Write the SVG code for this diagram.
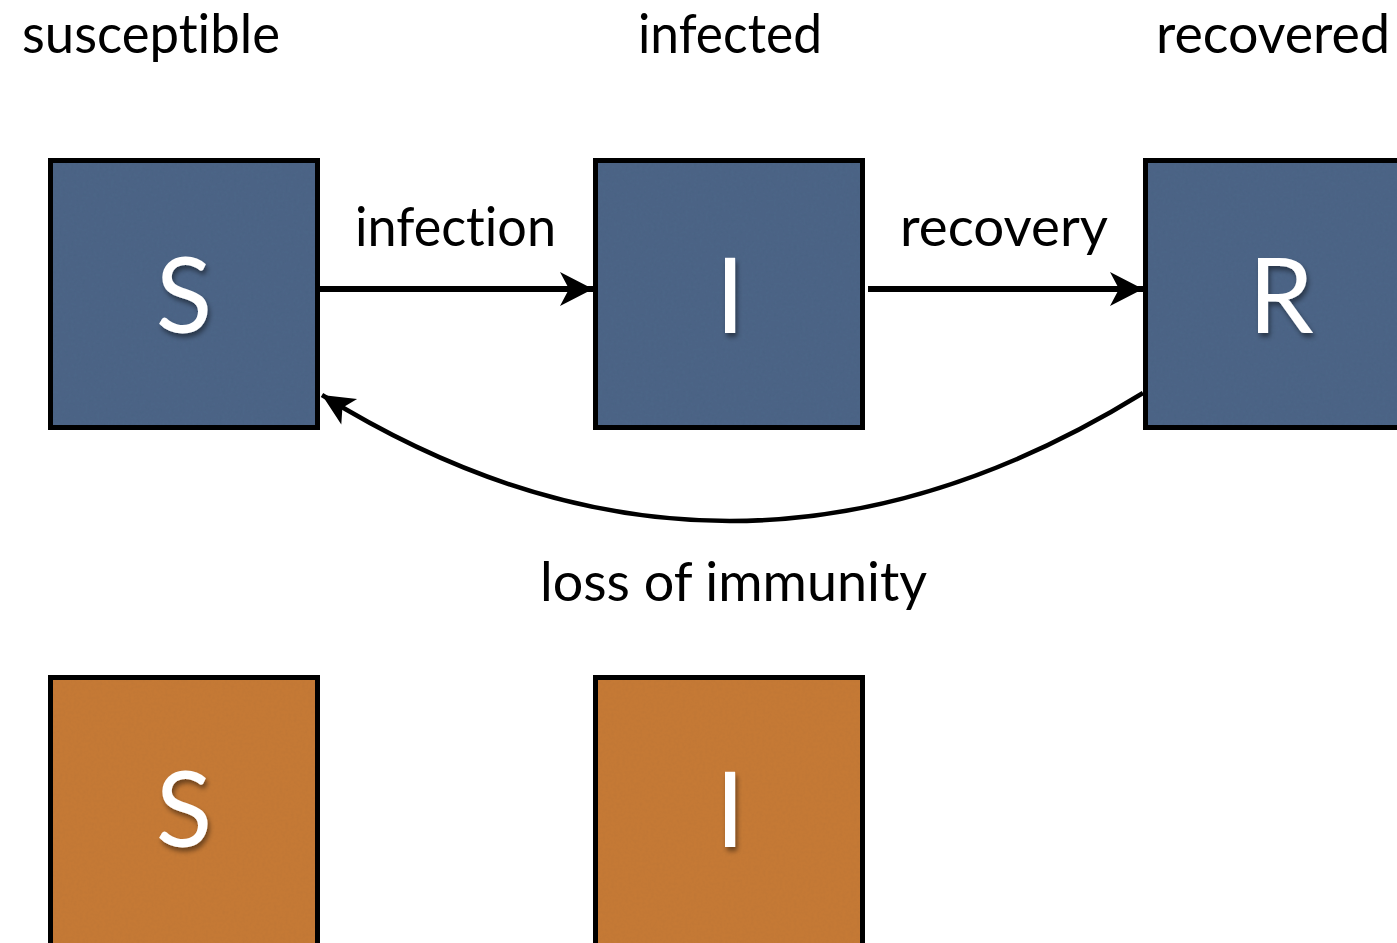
<svg xmlns="http://www.w3.org/2000/svg" width="1397" height="943" viewBox="0 0 1397 943">
<defs>
<style>
.lbl{font-family:Lato,"Open Sans","Liberation Sans",sans-serif;font-size:54px;fill:#000;font-variant-ligatures:none;font-feature-settings:"liga" 0;}
.box{stroke:#000;stroke-width:5;}
.blue{fill:#4e6688;}
.orange{fill:#c77b37;}
.let{font-family:Lato,"Open Sans","Liberation Sans",sans-serif;font-size:104px;fill:#fff;text-anchor:middle;filter:url(#sh);}
.conn{fill:none;stroke:#000;}
</style>
<filter id="sh" x="-50%" y="-50%" width="200%" height="200%">
<feDropShadow dx="2" dy="4" stdDeviation="2.5" flood-color="#000" flood-opacity="0.45"/>
</filter>
<filter id="tex" x="-5%" y="-5%" width="110%" height="110%">
<feTurbulence type="fractalNoise" baseFrequency="0.35" numOctaves="3" seed="4" result="n"/>
<feColorMatrix in="n" type="matrix" values="0 0 0 0 0  0 0 0 0 0  0 0 0 0 0  0 0 0 0.08 0" result="d"/>
<feComposite in="d" in2="SourceGraphic" operator="in" result="dm"/>
<feMerge><feMergeNode in="SourceGraphic"/><feMergeNode in="dm"/></feMerge>
</filter>
<marker id="ah" markerUnits="userSpaceOnUse" markerWidth="40" markerHeight="40" refX="36" refY="20" orient="auto">
<path d="M36,20 L3,3 L12,20 L3,37 Z" fill="#000"/>
</marker>
<marker id="ah2" markerUnits="userSpaceOnUse" markerWidth="40" markerHeight="40" refX="35" refY="20" orient="auto">
<path d="M35,20 L3,5 L11,20 L3,35 Z" fill="#000"/>
</marker>
</defs>
<rect width="1397" height="943" fill="#fff"/>
<g id="headers">
<text class="lbl" x="22" y="53" textLength="258" lengthAdjust="spacingAndGlyphs">susceptible</text>
<text class="lbl" x="638" y="53" textLength="184" lengthAdjust="spacingAndGlyphs">infected</text>
<text class="lbl" x="1156" y="53" textLength="234" lengthAdjust="spacingAndGlyphs">recovered</text>
</g>
<g id="node-S">
<rect class="box blue" x="50.5" y="160.5" width="267" height="267" filter="url(#tex)"/>
<text class="let" x="184" y="333">S</text>
</g>
<g id="node-I">
<rect class="box blue" x="595.5" y="160.5" width="267" height="267" filter="url(#tex)"/>
<text class="let" x="730" y="333">I</text>
</g>
<g id="node-R">
<rect class="box blue" x="1145.5" y="160.5" width="267" height="267" filter="url(#tex)"/>
<text class="let" x="1281" y="333">R</text>
</g>
<g id="node-S2">
<rect class="box orange" x="50.5" y="677.5" width="267" height="280" filter="url(#tex)"/>
<text class="let" x="184" y="847">S</text>
</g>
<g id="node-I2">
<rect class="box orange" x="595.5" y="677.5" width="267" height="280" filter="url(#tex)"/>
<text class="let" x="730" y="847">I</text>
</g>
<g id="connectors">
<line class="conn" x1="320" y1="289" x2="593" y2="289" stroke-width="6" marker-end="url(#ah)"/>
<line class="conn" x1="868" y1="289" x2="1143" y2="289" stroke-width="6" marker-end="url(#ah)"/>
<path class="conn" d="M1143,393 Q730,648 322,395" stroke-width="4.5" marker-end="url(#ah2)"/>
<text class="lbl" x="355" y="246" textLength="201" lengthAdjust="spacingAndGlyphs">infection</text>
<text class="lbl" x="900" y="246" textLength="208" lengthAdjust="spacingAndGlyphs">recovery</text>
<text class="lbl" x="540" y="601" textLength="387" lengthAdjust="spacingAndGlyphs">loss of immunity</text>
</g>
</svg>
